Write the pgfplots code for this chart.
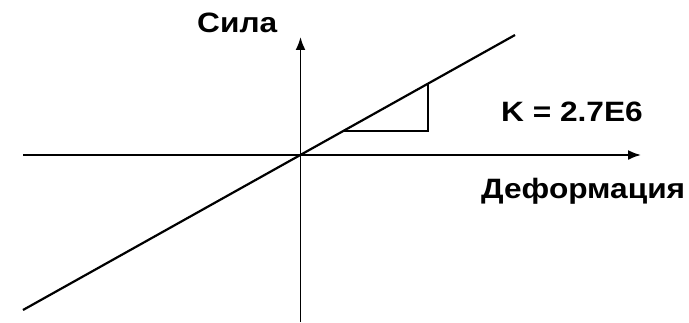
\documentclass[border=0pt]{standalone}
\usepackage{fontspec}
\setmainfont{Liberation Sans}
\usepackage{pgfplots}
\pgfplotsset{compat=1.18}
\usetikzlibrary{arrows.meta}
\newcommand{\lbl}[1]{\scalebox{1.13}[1]{\fontsize{28bp}{32bp}\bfseries #1}}
\begin{document}
\begin{tikzpicture}
\begin{axis}[
    scale only axis,
    width=689bp, height=323bp,
    xmin=0, xmax=689,
    ymin=0, ymax=323,
    y dir=reverse,
    hide axis,
    clip=false,
]
% keep the full canvas as bounding box
\path (rel axis cs:0,0) rectangle (rel axis cs:1,1);
% axes
\addplot[black, line width=1.8bp, -{Latex[length=13bp,width=10bp]}] coordinates {(23,155) (641,155)};
\addplot[black, line width=1.8bp, -{Latex[length=13bp,width=10bp]}] coordinates {(300.5,322) (300.5,37)};
% load line
\addplot[black, line width=2.2bp] coordinates {(23,310) (515,35)};
% slope triangle
\addplot[black, line width=1.6bp] coordinates {(343,131) (428,131) (428,83.6)};
\node[anchor=base west, inner sep=0pt] at (axis cs:197,32) {\lbl{Сила}};
\node[anchor=base west, inner sep=0pt] at (axis cs:501,121) {\lbl{K = 2.7E6}};
\node[anchor=base west, inner sep=0pt] at (axis cs:481,198) {\lbl{Деформация}};
\end{axis}
\end{tikzpicture}
\end{document}
